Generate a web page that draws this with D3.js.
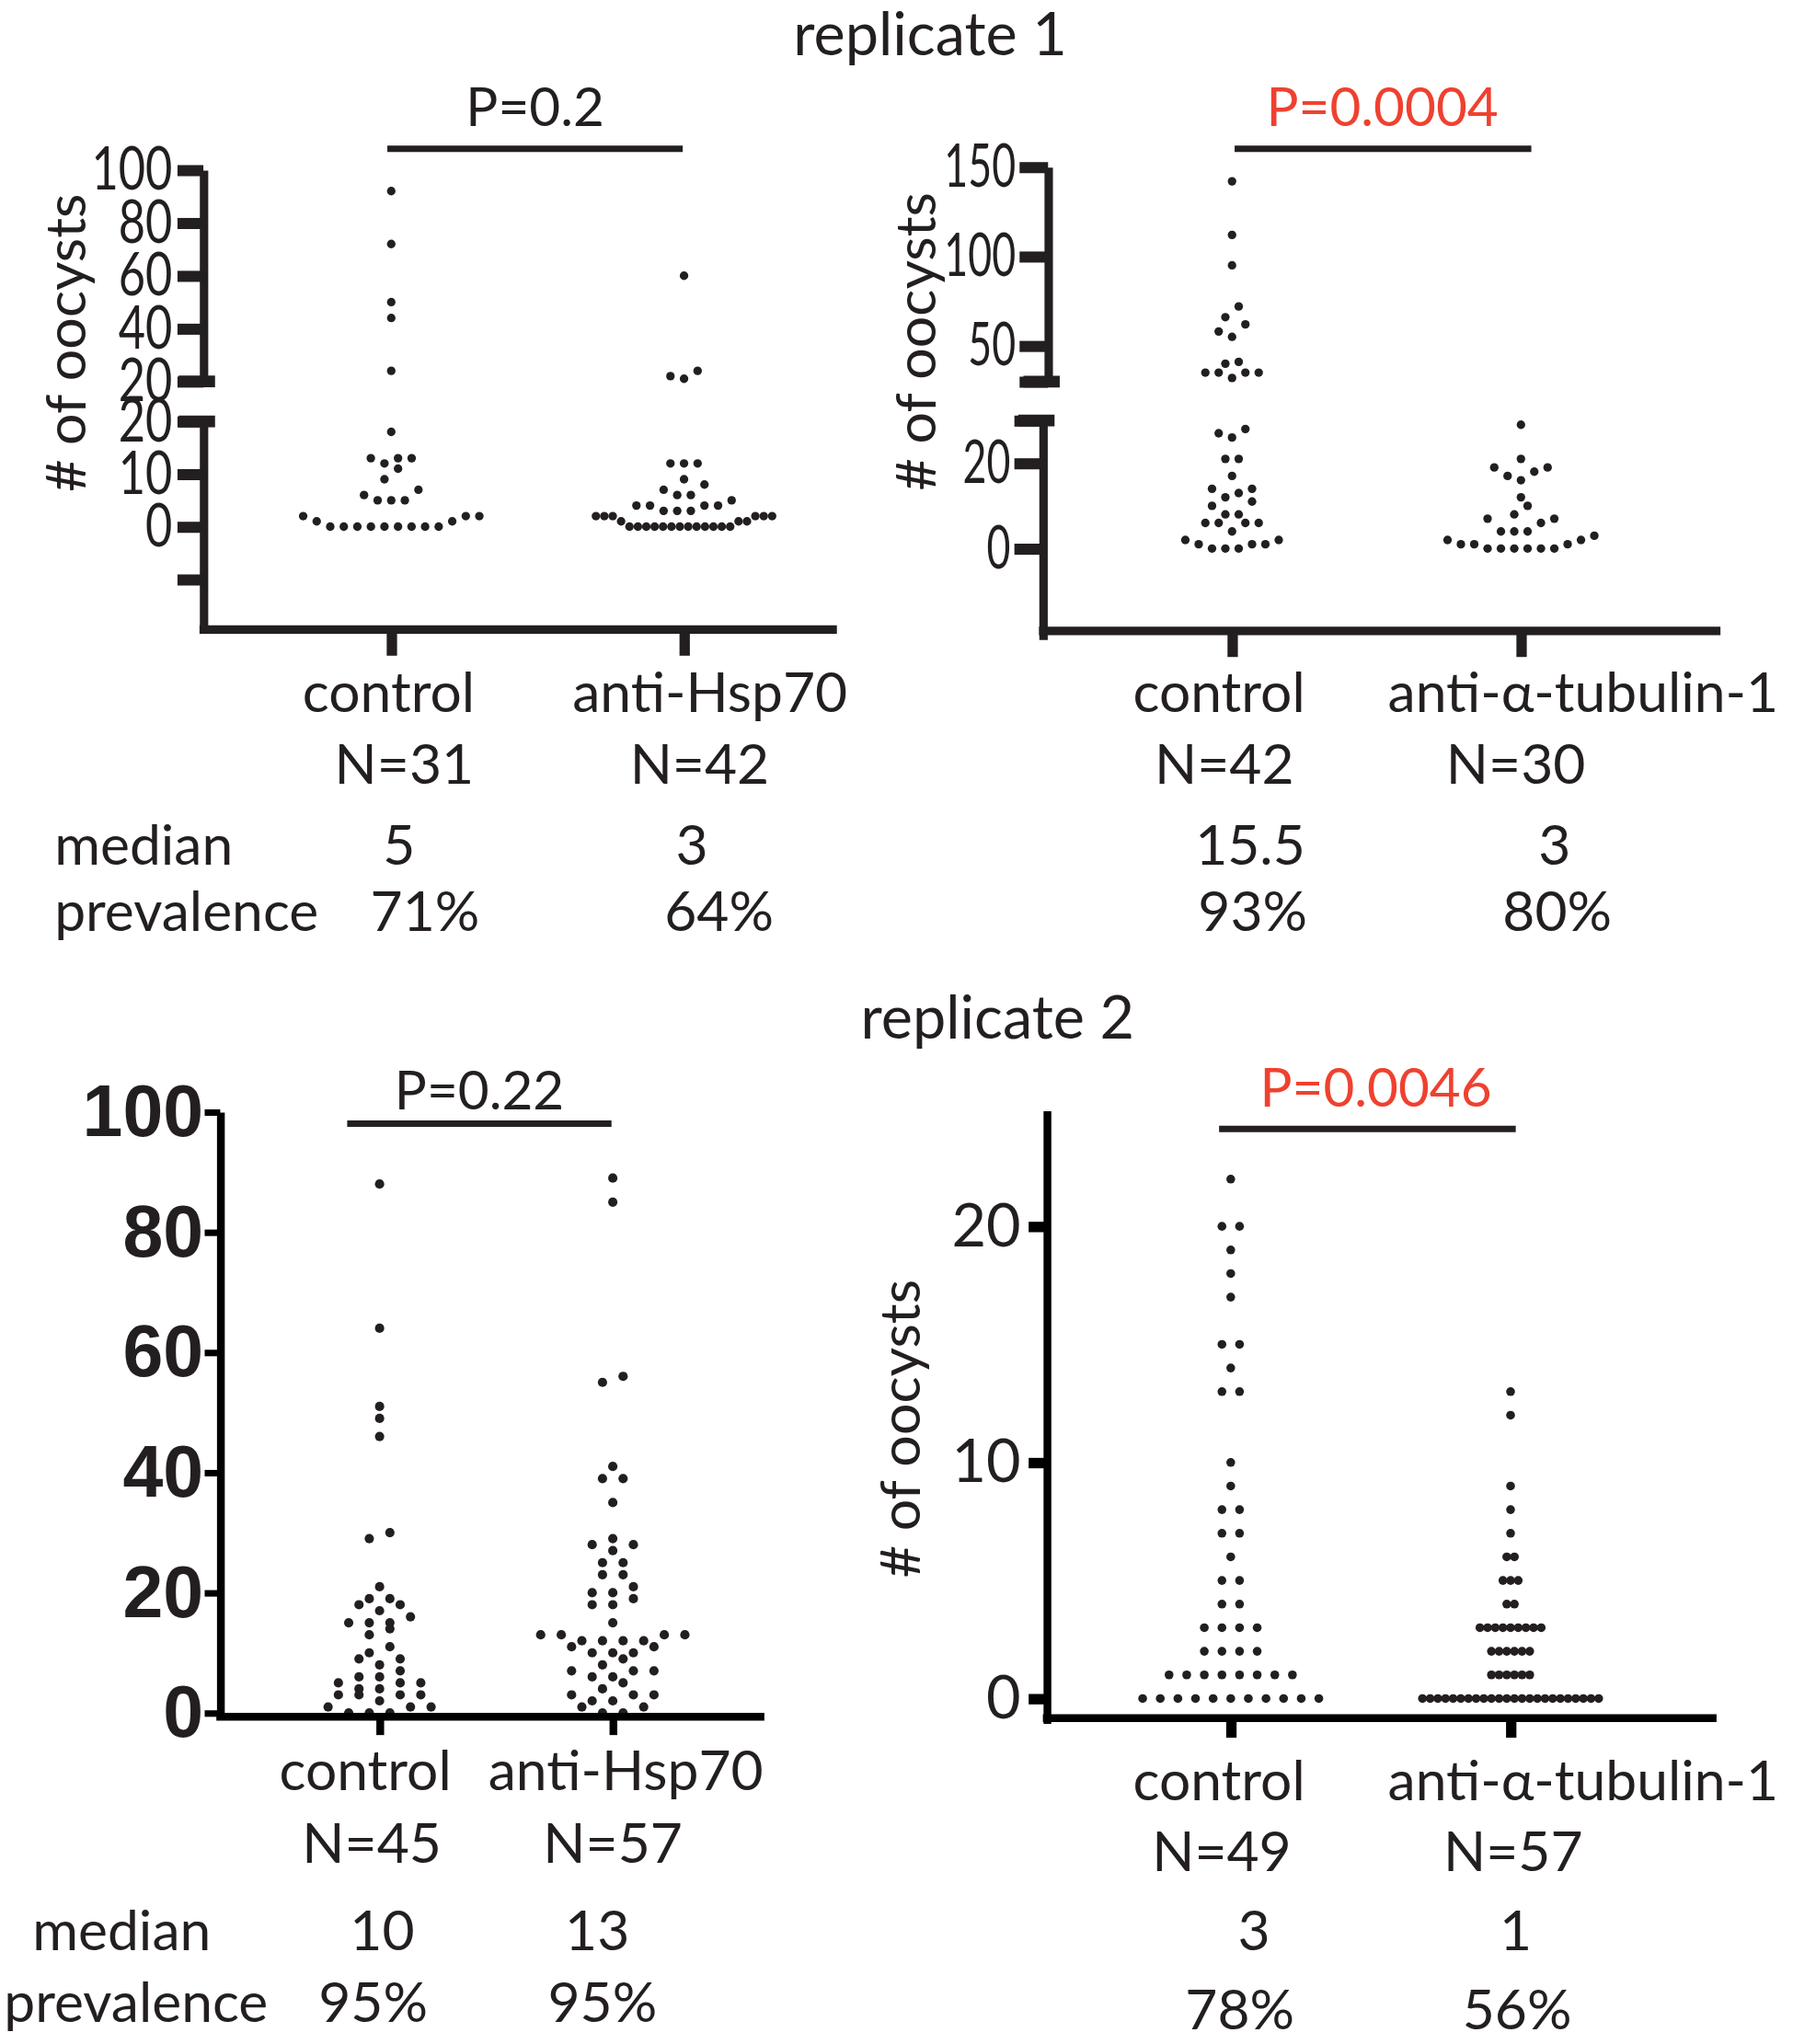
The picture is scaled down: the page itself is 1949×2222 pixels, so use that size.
<!DOCTYPE html>
<html>
<head>
<meta charset="utf-8">
<script src="https://cdn.jsdelivr.net/npm/d3@7"></script>
<style>body{margin:0;background:#fff}</style>
</head>
<body>
<svg id="fig" width="1949" height="2222" viewBox="0 0 1384 1568" preserveAspectRatio="none"></svg>
<script>
// ---------------- DATA ----------------
const titles = ["replicate 1", "replicate 2"];
const yTitle = "# of oocysts";
const statLabels = ["median", "prevalence"];

// replicate 1 - Hsp70
const rep1HspCategories = ["control", "anti-Hsp70"];
const rep1HspControl = [92, 72, 50, 44, 24, 18, 13, 13, 13, 12, 11, 9, 7, 6, 5, 5, 5, 2, 1, 0, 0, 0, 0, 0, 0, 0, 0, 0, 1, 2, 2];
const rep1HspAnti = [60, 24, 22, 21, 12, 12, 12, 9, 8, 7, 6, 6, 5, 4, 4, 4, 4, 3, 3, 3, 2, 2, 2, 2, 2, 2, 1, 1, 1,
  0, 0, 0, 0, 0, 0, 0, 0, 0, 0, 0, 0, 0];
const rep1HspN = ["N=31", "N=42"];
const rep1HspMedian = ["5", "3"];
const rep1HspPrevalence = ["71%", "64%"];
const rep1HspP = "P=0.2";
const rep1HspUpperTicks = [100, 80, 60, 40, 20];
const rep1HspUpperTickLabels = ["100", "80", "60", "40", "20"];
const rep1HspLowerTicks = [20, 10, 0, -10];
const rep1HspLowerTickLabels = ["20", "10", "0", ""];

// replicate 1 - alpha-tubulin-1
const rep1TubCategories = ["control", "anti-α-tubulin-1"];
const rep1TubControl = [142, 112, 95, 72, 66, 62, 58, 55, 41, 40, 35, 35, 35, 35, 32,
  28, 27, 26, 21, 21, 17, 14, 14, 13, 12, 11, 10, 8, 8, 6, 6, 6, 6, 4, 2, 2, 1, 1, 1, 0, 0, 0];
const rep1TubAnti = [29, 21, 19, 19, 18, 17, 16, 12, 10, 8, 7, 7, 6, 4, 4, 4, 3, 2, 2, 1, 1, 1, 0, 0, 0, 0, 0, 0];
const rep1TubN = ["N=42", "N=30"];
const rep1TubMedian = ["15.5", "3"];
const rep1TubPrevalence = ["93%", "80%"];
const rep1TubP = "P=0.0004";
const rep1TubUpperTicks = [150, 100, 50, 30];
const rep1TubUpperTickLabels = ["150", "100", "50", ""];
const rep1TubLowerTicks = [30, 20, 0];
const rep1TubLowerTickLabels = ["", "20", "0"];

// replicate 2 - Hsp70
const rep2HspCategories = ["control", "anti-Hsp70"];
const rep2HspControl = [88, 64, 51, 49, 46, 30, 29, 21, 19, 19, 18, 18, 17, 16, 15, 15, 15, 14, 13, 11, 10, 9, 9, 8, 7,
  6, 6, 5, 5, 5, 4, 4, 3, 3, 3, 3, 2, 1, 1, 1, 0, 0, 0];
const rep2HspAnti = [89, 85, 56, 55, 41, 39, 39, 35, 29, 28, 28, 27, 25, 25, 23, 23, 21, 20, 20, 19, 18, 18, 15,
  13, 13, 13, 13, 12, 12, 12, 12, 11, 11, 10, 10, 10, 9, 8, 7, 7, 7, 6, 6, 5, 4, 3, 3, 3, 2, 2, 1, 1, 0, 0];
const rep2HspN = ["N=45", "N=57"];
const rep2HspMedian = ["10", "13"];
const rep2HspPrevalence = ["95%", "95%"];
const rep2HspP = "P=0.22";
const rep2HspTicks = [0, 20, 40, 60, 80, 100];

// replicate 2 - alpha-tubulin-1
const rep2TubCategories = ["control", "anti-α-tubulin-1"];
const rep2TubControl = [22, 20, 20, 19, 18, 17, 15, 15, 14, 13, 13, 10, 9, 8, 8, 7, 7, 6, 5, 5, 4, 4, 3, 3, 3, 3,
  2, 2, 2, 2, 1, 1, 1, 1, 1, 1, 1, 1, 0, 0, 0, 0, 0, 0, 0, 0, 0, 0, 0];
const rep2TubAnti = [13, 12, 9, 8, 7, 6, 6, 5, 5, 5, 4, 4, 3, 3, 3, 3, 3, 3, 3, 3, 3, 2, 2, 2, 2, 2, 2,
  1, 1, 1, 1, 1, 1, 0, 0, 0, 0, 0, 0, 0, 0, 0, 0, 0, 0, 0, 0, 0, 0, 0, 0, 0, 0, 0, 0, 0, 0];
const rep2TubN = ["N=49", "N=57"];
const rep2TubMedian = ["3", "1"];
const rep2TubPrevalence = ["78%", "56%"];
const rep2TubP = "P=0.0046";
const rep2TubTicks = [0, 10, 20];

// ---------------- STYLE ----------------
const INK = "#231f20", BLACK = "#000000", RED = "#ef4130";
const SANS = "Lato, 'Open Sans', 'Noto Sans', sans-serif";
const ARIAL = "'Liberation Sans', Arial, sans-serif";
const svg = d3.select("#fig");

// Prism-like scatter: values grouped into horizontal bands, each band centred
function swarm(values, yPos, o) {
  const pts = values.map(v => ({ v, y: yPos(v) })).sort((a, b) => a.v - b.v);
  const bands = [];
  pts.forEach(p => {
    const last = bands[bands.length - 1];
    if (!last || Math.abs(p.y - last.y0) > o.bandH) bands.push({ y0: p.y, items: [p] });
    else last.items.push(p);
  });
  const widest = d3.max(bands, b => b.items.length);
  bands.forEach(b => {
    const n = b.items.length;
    const span = o.perColumn ? widest : n;
    const sp = span > 1 ? Math.min(o.spacing, o.maxWidth / (span - 1)) : o.spacing;
    b.items.forEach((p, i) => {
      let k;
      if (n % 2 === 1) k = i === 0 ? 0 : Math.ceil(i / 2) * (i % 2 === 1 ? -1 : 1);
      else { const m = Math.floor(i / 2) + 0.5; k = i % 2 === 0 ? -m : m; }
      p.dx = k * sp;
    });
  });
  return pts;
}

function txt(g, s, x, y, opt) {
  return g.append("text").attr("x", x).attr("y", y).text(s)
    .attr("font-family", opt.font || SANS).attr("font-size", opt.size || 43)
    .attr("text-anchor", opt.anchor || "middle").attr("fill", opt.fill || INK)
    .attr("font-weight", opt.weight || "normal");
}

function drawPanel(p) {
  const g = svg.append("g");
  // dots
  p.series.forEach((vals, i) => {
    const cx = p.x(p.categories[i]);
    const pts = swarm(vals, p.yPos, p.swarm);
    g.append("g").selectAll("circle").data(pts).join("circle")
      .attr("cx", d => cx + d.dx).attr("cy", d => d.y).attr("r", p.r).attr("fill", INK);
  });
  // y axis segments
  const sx = p.tick.sx || 1;
  p.segments.forEach(s => {
    const ax = d3.axisLeft(s.scale).tickValues(s.ticks).tickFormat((d, i) => s.labels[i])
      .tickSize(p.tick.len).tickSizeOuter(0).tickPadding(p.tick.pad);
    const a = g.append("g").attr("transform", `translate(${s.x},0)`).call(ax);
    a.attr("font-family", p.tick.font).attr("font-size", p.tick.size).attr("font-weight", p.tick.weight || "normal");
    a.select(".domain").attr("stroke", p.color).attr("stroke-width", p.axisW);
    a.selectAll(".tick line").attr("stroke", p.color).attr("stroke-width", p.tick.w);
    a.selectAll(".tick text").attr("fill", INK)
      .attr("transform", `scale(${sx},1)`)
      .attr("x", -(p.tick.len + p.tick.pad) / sx);
    if (s.breakValue !== undefined) {
      const yb = s.scale(s.breakValue);
      g.append("line").attr("x1", s.x - 19).attr("x2", s.x + 9).attr("y1", yb).attr("y2", yb)
        .attr("stroke", p.color).attr("stroke-width", 9);
    }
  });
  // x axis
  g.append("line").attr("x1", p.xAxis.x0).attr("x2", p.xAxis.x1).attr("y1", p.xAxis.y).attr("y2", p.xAxis.y)
    .attr("stroke", p.color).attr("stroke-width", p.axisW);
  const bx = g.append("g").attr("transform", `translate(0,${p.xAxis.y})`)
    .call(d3.axisBottom(p.x).tickSize(p.xAxis.tickLen).tickFormat(() => ""));
  bx.select(".domain").remove();
  bx.selectAll(".tick line").attr("stroke", p.color).attr("stroke-width", p.xAxis.tickW);
  // significance bar
  g.append("line").attr("x1", p.bar.x0).attr("x2", p.bar.x1).attr("y1", p.bar.y).attr("y2", p.bar.y)
    .attr("stroke", INK).attr("stroke-width", 5);
  txt(g, p.pText, p.pPos[0], p.pPos[1], { size: 41.5, fill: p.pColor });
  // category labels and stats
  p.categories.forEach((c, i) => {
    const cx = p.x(c);
    txt(g, c, cx + p.lab.catDx[i], p.lab.catY, {});
    txt(g, p.nLabels[i], cx + p.lab.nDx[i], p.lab.nY, {});
    txt(g, p.median[i], cx + p.lab.medDx[i], p.lab.medY, {});
    txt(g, p.prevalence[i], cx + p.lab.prevDx[i], p.lab.prevY, {});
  });
  if (p.rowLabels) {
    txt(g, statLabels[0], p.rowLabels[0], p.lab.medY, { anchor: "start" });
    txt(g, statLabels[1], p.rowLabels[1], p.lab.prevY, { anchor: "start" });
  }
  if (p.yTitle) {
    g.append("text").attr("transform", `translate(${p.yTitle[0]},${p.yTitle[1]}) rotate(-90)`)
      .attr("text-anchor", "middle").attr("font-family", SANS).attr("font-size", 43).attr("fill", INK)
      .text(yTitle);
  }
}

// titles
txt(svg, titles[0], 718, 42, { size: 46 });
txt(svg, titles[1], 770, 797, { size: 46 });

// ---------- Panel 1: replicate 1, Hsp70 (broken axis at 20) ----------
{
  const up = d3.scaleLinear().domain([20, 100]).range([292.6, 130.4]);
  const low = d3.scaleLinear().domain([-19.55, 20]).range([483, 323.2]);
  drawPanel({
    categories: rep1HspCategories, series: [rep1HspControl, rep1HspAnti],
    x: d3.scalePoint().domain(rep1HspCategories).range([302, 528]),
    yPos: v => v > 20 ? up(v) : low(v),
    segments: [
      { scale: up, ticks: rep1HspUpperTicks, labels: rep1HspUpperTickLabels, x: 157, breakValue: 20 },
      { scale: low, ticks: rep1HspLowerTicks, labels: rep1HspLowerTickLabels, x: 157, breakValue: 20 }
    ],
    swarm: { bandH: 10.5, spacing: 10.5, maxWidth: 136, perColumn: false },
    r: 3.3, color: INK, axisW: 6.5,
    tick: { len: 20, w: 8.5, pad: 4, font: SANS, size: 46, sx: 0.78 },
    xAxis: { y: 483, x0: 154, x1: 646, tickLen: 20, tickW: 8 },
    bar: { x0: 299, x1: 527, y: 114.2 }, pText: rep1HspP, pPos: [413, 97], pColor: INK,
    nLabels: rep1HspN, median: rep1HspMedian, prevalence: rep1HspPrevalence,
    lab: { catY: 546, nY: 601, medY: 663, prevY: 714, catDx: [-2, 20], nDx: [10, 12], medDx: [6, 6], prevDx: [26, 27] },
    rowLabels: [42, 42], yTitle: [66, 263]
  });
}

// ---------- Panel 2: replicate 1, alpha-tubulin-1 (broken axis at 30) ----------
{
  const up = d3.scaleLinear().domain([30, 150]).range([292.7, 128.1]);
  const low = d3.scaleLinear().domain([-21.25, 30]).range([490.4, 322.55]);
  drawPanel({
    categories: rep1TubCategories, series: [rep1TubControl, rep1TubAnti],
    x: d3.scalePoint().domain(rep1TubCategories).range([951, 1174]),
    yPos: v => v > 30 ? up(v) : low(v),
    segments: [
      { scale: up, ticks: rep1TubUpperTicks, labels: rep1TubUpperTickLabels, x: 809, breakValue: 30 },
      { scale: low, ticks: rep1TubLowerTicks, labels: rep1TubLowerTickLabels, x: 805, breakValue: 30 }
    ],
    swarm: { bandH: 10.5, spacing: 10.3, maxWidth: 136, perColumn: false },
    r: 3.3, color: INK, axisW: 6.5,
    tick: { len: 22, w: 8.5, pad: 3, font: SANS, size: 46, sx: 0.69 },
    xAxis: { y: 484, x0: 802, x1: 1328, tickLen: 20, tickW: 8 },
    bar: { x0: 953, x1: 1182, y: 114.2 }, pText: rep1TubP, pPos: [1067, 97], pColor: RED,
    nLabels: rep1TubN, median: rep1TubMedian, prevalence: rep1TubPrevalence,
    lab: { catY: 546, nY: 601, medY: 663, prevY: 714, catDx: [-10, 48], nDx: [-6, -4], medDx: [14, 26], prevDx: [16, 28] },
    rowLabels: null, yTitle: [722, 262]
  });
}

// ---------- Panel 3: replicate 2, Hsp70 ----------
{
  const y = d3.scaleLinear().domain([-0.8, 100]).range([1317.7, 853]);
  drawPanel({
    categories: rep2HspCategories, series: [rep2HspControl, rep2HspAnti],
    x: d3.scalePoint().domain(rep2HspCategories).range([293, 473]),
    yPos: v => y(v),
    segments: [{ scale: y, ticks: rep2HspTicks, labels: rep2HspTicks.map(String), x: 170 }],
    swarm: { bandH: 6, spacing: 15.9, maxWidth: 200, perColumn: false },
    r: 3.6, color: BLACK, axisW: 6,
    tick: { len: 12, w: 5, pad: 1, font: ARIAL, size: 56, weight: "bold" },
    xAxis: { y: 1317, x0: 167, x1: 590, tickLen: 14, tickW: 6 },
    bar: { x0: 268, x1: 472, y: 862 }, pText: rep2HspP, pPos: [370, 851], pColor: INK,
    nLabels: rep2HspN, median: rep2HspMedian, prevalence: rep2HspPrevalence,
    lab: { catY: 1373, nY: 1429, medY: 1496, prevY: 1551, catDx: [-11, 10], nDx: [-6, 0], medDx: [2, -12], prevDx: [-5, -8] },
    rowLabels: [25, 3], yTitle: null
  });
}

// ---------- Panel 4: replicate 2, alpha-tubulin-1 ----------
{
  const y = d3.scaleLinear().domain([-1.05, 24.9]).range([1322, 852]);
  drawPanel({
    categories: rep2TubCategories, series: [rep2TubControl, rep2TubAnti],
    x: d3.scalePoint().domain(rep2TubCategories).range([950, 1166]),
    yPos: v => y(v),
    segments: [{ scale: y, ticks: rep2TubTicks, labels: rep2TubTicks.map(String), x: 808 }],
    swarm: { bandH: 10, spacing: 13.6, maxWidth: 136, perColumn: true },
    r: 3.4, color: BLACK, axisW: 6,
    tick: { len: 14, w: 8, pad: 6, font: SANS, size: 46 },
    xAxis: { y: 1318, x0: 805, x1: 1325, tickLen: 15, tickW: 8 },
    bar: { x0: 941, x1: 1170, y: 866 }, pText: rep2TubP, pPos: [1062, 849], pColor: RED,
    nLabels: rep2TubN, median: rep2TubMedian, prevalence: rep2TubPrevalence,
    lab: { catY: 1381, nY: 1435, medY: 1496, prevY: 1557, catDx: [-9, 56], nDx: [-7, 2], medDx: [18, 4], prevDx: [7, 5] },
    rowLabels: null, yTitle: [710, 1096]
  });
}
</script>
</body>
</html>
